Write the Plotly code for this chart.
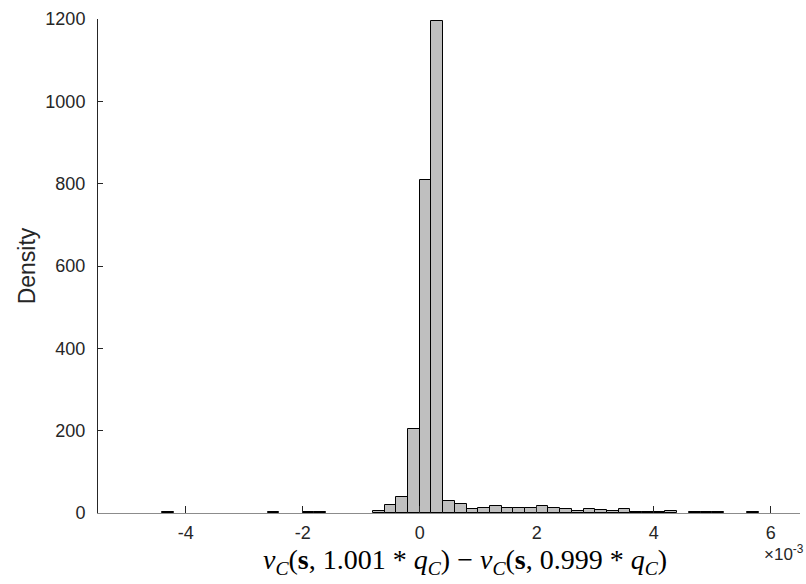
import plotly.graph_objects as go

# Histogram bins: left edges (in units of 1e-3) and density per bin
bin_left = [-4.4, -2.6, -2.0, -1.8, -0.8, -0.6, -0.4, -0.2, 0.0, 0.2, 0.4, 0.6,
            0.8, 1.0, 1.2, 1.4, 1.6, 1.8, 2.0, 2.2, 2.4, 2.6, 2.8, 3.0, 3.2,
            3.4, 3.6, 3.8, 4.0, 4.2, 4.6, 4.8, 5.0, 5.6]
density = [2, 2, 2, 2, 6, 19, 40, 204, 810, 1195, 29, 23,
           10.5, 13, 18, 13, 13, 13, 17, 13, 10, 5, 10, 7, 5,
           9, 1.5, 1.5, 1.5, 5, 1.5, 1.5, 1.5, 2]
bin_width = 0.2e-3

x_tick_vals = [-4e-3, -2e-3, 0, 2e-3, 4e-3, 6e-3]
x_tick_text = ["-4", "-2", "0", "2", "4", "6"]
y_tick_vals = [0, 200, 400, 600, 800, 1000, 1200]

centers = [(b * 1e-3) + bin_width / 2 for b in bin_left]

fig = go.Figure()
fig.add_trace(go.Bar(
    x=centers, y=density, width=bin_width,
    marker=dict(color="#bfbfbf", line=dict(color="#000000", width=1)),
    showlegend=False,
))

sans = "Liberation Sans, Arial, sans-serif"
axis_font = dict(family=sans, size=18, color="#262626")

fig.update_layout(
    width=806, height=584,
    margin=dict(l=98, r=6, t=19, b=71),
    paper_bgcolor="white", plot_bgcolor="white",
    bargap=0,
    xaxis=dict(
        range=[-5.5e-3, 6.5e-3], tickvals=x_tick_vals, ticktext=x_tick_text,
        ticks="inside", ticklen=7, tickwidth=1, tickcolor="#262626",
        showline=True, linecolor="#8c8c8c", linewidth=1,
        showgrid=False, zeroline=False, tickfont=axis_font,
        ticklabelstandoff=3,
    ),
    yaxis=dict(
        range=[0, 1200], tickvals=y_tick_vals,
        ticks="inside", ticklen=5, tickwidth=1, tickcolor="#262626",
        showline=True, linecolor="#262626", linewidth=1,
        showgrid=False, zeroline=False, tickfont=axis_font,
        ticklabelstandoff=8,
        title=dict(text="Density", font=dict(family=sans, size=23, color="#262626"),
                   standoff=3),
    ),
    annotations=[
        dict(
            text=("<i>v</i><sub><i>C</i></sub>(<b>s</b>, 1.001 * <i>q</i><sub><i>C</i></sub>) − "
                  "<i>v</i><sub><i>C</i></sub>(<b>s</b>, 0.999 * <i>q</i><sub><i>C</i></sub>)"),
            xref="paper", yref="paper", x=(465 - 98) / 702, y=-(561 - 513) / 494,
            xanchor="center", yanchor="middle", showarrow=False,
            font=dict(family="Liberation Serif, Times New Roman, serif", size=28, color="#000000"),
        ),
        dict(
            text="×10<sup>-3</sup>",
            xref="paper", yref="paper", x=1.0, xshift=6, y=-(553 - 513) / 494,
            xanchor="right", yanchor="middle", showarrow=False,
            font=dict(family=sans, size=17, color="#262626"),
        ),
    ],
)

fig.write_html("out.html")
